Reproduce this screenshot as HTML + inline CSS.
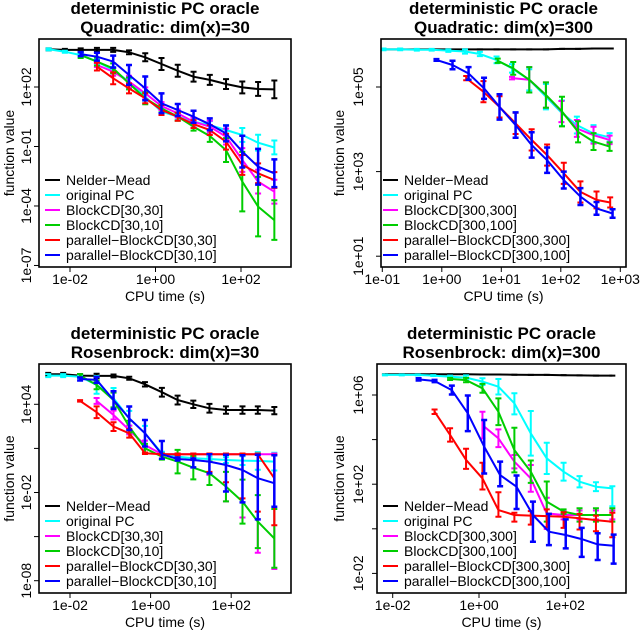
<!DOCTYPE html>
<html><head><meta charset="utf-8"><style>
html,body{margin:0;padding:0;background:#fff;}
svg{display:block;font-family:"Liberation Sans",sans-serif;}
</style></head><body>
<svg id="chart" width="640" height="631" viewBox="0 0 640 631" xmlns="http://www.w3.org/2000/svg"></svg>
<script>
// ---------- Panel 1: Quadratic dim 30 (log10 values) ----------
const p1Grid = [-2.5,-2.12,-1.75,-1.37,-0.99,-0.62,-0.24,0.14,0.52,0.89,1.27,1.65,2.03,2.40,2.78];
const p1NmY = [3.90,3.87,3.87,3.87,3.87,3.75,3.50,3.16,2.82,2.52,2.36,2.15,1.98,1.90,1.88];
const p1NmE = [0.05,0.05,0.08,0.1,0.1,0.1,0.2,0.3,0.3,0.25,0.25,0.25,0.3,0.35,0.45];
const p1CyY = [3.90,3.78,3.61,3.28,2.86,2.27,1.51,0.76,0.50,0.25,0.08,-0.17,-0.42,-0.81,-1.05];
const p1CyE = [0.05,0.05,0.1,0.1,0.15,0.15,0.2,0.15,0.15,0.15,0.2,0.25,0.35,0.4,0.35];
const p1MaY = [3.11,2.77,2.27,1.68,1.04,0.67,0.25,0.00,-0.50,-1.68,-2.77,-3.28];
const p1MaE = [0.1,0.2,0.3,0.3,0.2,0.2,0.2,0.3,0.4,0.6,0.6,0.6];
const p1GrY = [3.61,3.28,2.94,2.18,1.43,0.92,0.50,0.00,-0.47,-1.18,-2.77,-4.03,-4.71];
const p1GrE = [0.15,0.2,0.25,0.3,0.3,0.2,0.2,0.2,0.3,0.6,1.5,1.5,1.0];
const p1ReY = [3.03,2.44,1.93,1.43,0.84,0.50,0.13,-0.17,-0.76,-1.93,-2.35,-2.69];
const p1ReE = [0.2,0.3,0.25,0.25,0.25,0.2,0.2,0.25,0.4,0.5,0.5,0.4];
const p1BlY = [3.66,3.53,3.28,2.61,1.93,1.18,0.84,0.50,0.12,-0.34,-1.26,-2.02,-2.35];
const p1BlE = [0.1,0.2,0.3,0.5,0.6,0.5,0.3,0.3,0.3,0.4,0.8,0.9,0.7];

// ---------- Panel 2: Quadratic dim 300 ----------
const p2NmX = [-0.98,-0.70,-0.42,-0.17,0.11,0.39,0.64,0.92,1.20,1.47,1.75,2.02,2.29,2.56,2.84];
const p2NmY = [5.89,5.89,5.89,5.89,5.89,5.89,5.89,5.89,5.89,5.89,5.89,5.90,5.90,5.91,5.91];
const p2CyX = [-0.98,-0.70,-0.42,-0.17,0.11,0.39,0.64,0.92,1.18,1.47,1.75,2.02,2.27,2.55,2.82];
const p2CyY = [5.89,5.89,5.88,5.88,5.86,5.84,5.78,5.64,5.44,5.17,4.77,4.38,4.10,3.90,3.81];
const p2CyE = [0.02,0.02,0.02,0.02,0.03,0.05,0.05,0.08,0.1,0.25,0.3,0.3,0.2,0.2,0.1];
const p2MaX = [1.18,1.47,1.75,2.01,2.27,2.55,2.82];
const p2MaY = [5.21,5.17,4.81,4.42,4.02,3.86,3.75];
const p2MaE = [0.03,0.3,0.3,0.25,0.2,0.2,0.1];
const p2GrX = [0.94,1.20,1.47,1.75,2.02,2.29,2.55,2.82];
const p2GrY = [5.62,5.44,5.17,4.81,4.42,3.94,3.71,3.59];
const p2GrE = [0.05,0.15,0.3,0.3,0.35,0.25,0.2,0.1];
const p2ReX = [0.41,0.70,0.97,1.24,1.51,1.77,2.05,2.33,2.60,2.83];
const p2ReY = [5.21,4.89,4.53,4.14,3.75,3.39,2.96,2.52,2.33,2.27];
const p2ReE = [0.05,0.25,0.25,0.25,0.25,0.25,0.25,0.25,0.2,0.12];
const p2BlX = [-0.09,0.18,0.45,0.71,0.97,1.24,1.51,1.77,2.05,2.33,2.60,2.87];
const p2BlY = [5.64,5.52,5.32,4.97,4.53,4.10,3.63,3.27,2.80,2.41,2.13,2.01];
const p2BlE = [0.02,0.1,0.15,0.25,0.3,0.3,0.3,0.3,0.2,0.2,0.15,0.1];

// ---------- Panel 3: Rosenbrock dim 30 ----------
const p3Grid = [-2.54,-2.17,-1.75,-1.34,-0.92,-0.53,-0.14,0.28,0.67,1.06,1.46,1.87,2.28,2.66,3.07];
const p3NmY = [6.04,6.04,5.95,5.93,5.93,5.77,5.36,4.82,4.29,4.00,3.73,3.61,3.61,3.61,3.57];
const p3NmE = [0.1,0.1,0.1,0.15,0.1,0.1,0.15,0.3,0.3,0.25,0.3,0.25,0.25,0.25,0.25];
const p3CyY = [5.95,5.95,5.88,5.32,4.41,3.05,2.03,0.67,0.44,0.33,0.28,0.21,0.17,0.15,0.10];
const p3CyE = [0.1,0.1,0.1,0.6,0.7,0.5,0.5,0.1,0.1,0.1,0.15,0.2,0.3,0.6,0.6];
const p3MaY = [4.23,3.27,2.25,1.23,0.60,0.60,0.60,0.60,0.60,0.60,0.60,0.60];
const p3MaEHi = [0.2,0.3,0.3,0.3,0.05,0.05,0.05,0.05,0.05,0.05,0.05,0.05];
const p3MaELo = [0.2,0.3,0.3,0.3,0.05,0.1,0.3,1.4,3.2,4.3,6.7,7.8];
const p3GrY = [5.95,5.32,4.29,2.48,1.01,0.44,0.10,-0.31,-0.69,-1.60,-2.62,-3.98,-5.12];
const p3GrE = [0.1,0.3,0.5,0.4,0.3,0.2,0.8,0.8,0.8,1.0,1.5,1.8,2.0];
const p3ReY = [4.23,3.46,2.48,2.03,0.67,0.60,0.60,0.60,0.60,0.60,0.60,0.60,-1.03];
const p3ReEHi = [0.05,0.4,0.3,0.3,0.05,0.05,0.05,0.05,0.05,0.05,0.05,0.05,1.6];
const p3ReELo = [0.05,0.4,0.3,0.3,0.05,0.05,0.05,0.4,1.2,1.9,3.0,3.9,3.2];
const p3BlY = [5.72,5.66,4.29,3.05,2.03,0.60,0.28,0.21,0.10,-0.13,-0.47,-1.03,-1.37];
const p3BlEHi = [0.1,0.2,0.6,0.8,0.9,0.9,0.1,0.1,0.5,0.7,1.0,1.6,1.9];
const p3BlELo = [0.1,0.2,0.6,0.8,0.9,0.3,0.1,0.5,0.8,1.8,2.2,2.8,1.6];

// ---------- Panel 4: Rosenbrock dim 300 ----------
const p4Grid = [-2.18,-1.79,-1.42,-1.06,-0.67,-0.30,0.08,0.45,0.82,1.20,1.57,1.96,2.33,2.71,3.09];
const p4NmY = [6.93,6.93,6.93,6.93,6.93,6.93,6.92,6.92,6.91,6.90,6.90,6.89,6.88,6.87,6.87];
const p4CyY = [6.90,6.90,6.90,6.87,6.82,6.78,6.60,6.37,5.63,4.28,3.16,2.56,2.11,1.89,1.81];
const p4CyEHi = [0.02,0.02,0.02,0.02,0.05,0.1,0.15,0.35,0.45,1.0,0.7,0.4,0.25,0.2,0.1];
const p4CyELo = [0.02,0.02,0.02,0.02,0.05,0.1,0.15,0.35,0.5,1.0,0.7,0.4,0.25,0.2,0.8];
const p4MaY = [4.65,4.06,3.01,2.26,0.69,0.62,0.62,0.62,0.62];
const p4MaE = [0.6,0.4,0.3,0.6,0.7,0.2,0.2,0.2,0.2];
const p4GrY = [6.72,6.67,6.30,5.25,3.53,2.56,1.22,0.77,0.62,0.62,0.62];
const p4GrE = [0.05,0.1,0.2,0.6,1.0,0.5,0.9,0.1,0.3,0.3,0.3];
const p4ReX = [-1.03,-0.67,-0.30,0.08,0.45,0.82,1.20,1.57,1.96,2.33,2.71,3.09];
const p4ReY = [5.25,4.21,3.09,2.26,0.84,0.62,0.59,0.57,0.54,0.47,0.39,0.32];
const p4ReEHi = [0.1,0.3,0.5,0.7,0.8,0.1,0.2,0.3,0.2,0.2,0.2,0.4];
const p4ReELo = [0.1,0.3,0.4,0.5,0.3,0.3,0.4,0.5,0.5,0.5,0.5,0.7];
const p4BlX = [-1.40,-1.03,-0.63,-0.26,0.12,0.49,0.87,1.25,1.62,2.01,2.38,2.75,3.12];
const p4BlY = [6.70,6.63,6.22,5.18,3.68,2.41,1.89,0.62,-0.13,-0.28,-0.46,-0.70,-0.76];
const p4BlEHi = [0.05,0.05,0.2,0.8,1.2,0.6,0.5,0.6,0.8,0.7,0.5,0.5,0.5];
const p4BlELo = [0.05,0.05,0.2,0.8,1.2,0.5,1.0,1.2,0.6,0.6,0.8,0.7,0.8];

const legend30 = ["Nelder\u2212Mead","original PC","BlockCD[30,30]","BlockCD[30,10]","parallel\u2212BlockCD[30,30]","parallel\u2212BlockCD[30,10]"];
const legend300 = ["Nelder\u2212Mead","original PC","BlockCD[300,300]","BlockCD[300,100]","parallel\u2212BlockCD[300,300]","parallel\u2212BlockCD[300,100]"];
const colors = ["#000000","#00ffff","#ff00ff","#00cd00","#ff0000","#0000ff"];

const NS = "http://www.w3.org/2000/svg";
const svg = document.getElementById("chart");
function mk(tag, attrs, parent, text){
  const e = document.createElementNS(NS, tag);
  for (const k in attrs) e.setAttribute(k, attrs[k]);
  if (text !== undefined) e.textContent = text;
  (parent||svg).appendChild(e);
  return e;
}
function fmtExp(p){ const s = p<0?"-":"+"; const a=Math.abs(p); return "1e"+s+(a<10?"0":"")+a; }

function panel(cfg){
  const g = mk("g",{});
  
  
  const X = v => cfg.x0 + (v - cfg.xv0) * cfg.xs;
  const Y = v => cfg.y0 - (v - cfg.yv0) * cfg.ys;
  const cx = (cfg.bx1 + cfg.bx2)/2;
  const t1 = mk("text",{x:cx,y:cfg.ty,"text-anchor":"middle","font-size":"17","font-weight":"bold"},g,cfg.title1);
  
  
  const t2 = mk("text",{x:cx,y:cfg.ty+19,"text-anchor":"middle","font-size":"17","font-weight":"bold"},g,cfg.title2);
  
  
  cfg.xt.forEach(p=>{
    const px = X(p);
    mk("line",{x1:px,x2:px,y1:cfg.by2,y2:cfg.by2+5,stroke:"#000","stroke-width":1},g);
    const t = mk("text",{x:px,y:cfg.by2+17,"text-anchor":"middle","font-size":"14"},g,fmtExp(p));
    
    
  });
  cfg.yt.forEach(p=>{
    const py = Y(p);
    mk("line",{x1:cfg.bx1-5,x2:cfg.bx1,y1:py,y2:py,stroke:"#000","stroke-width":1},g);
    if (cfg.ylab.indexOf(p) >= 0){
      const t = mk("text",{x:cfg.ylx,y:py,"text-anchor":"middle","font-size":"14",transform:"rotate(-90 "+cfg.ylx+" "+py+")",dy:"0.35em"},g,fmtExp(p));
      
      
    }
  });
  const xt = mk("text",{x:cx,y:cfg.by2+34,"text-anchor":"middle","font-size":"14"},g,"CPU time (s)");
  
  
  const yc = (cfg.by1+cfg.by2)/2;
  const yt = mk("text",{x:cfg.ytx,y:yc,"text-anchor":"middle","font-size":"14",transform:"rotate(-90 "+cfg.ytx+" "+yc+")",dy:"0.35em"},g,"function value");
  
  
  cfg.series.forEach((s,i)=>{
    const sg = mk("g",{},g);
    
    
    const pts = s.y.map((v,k)=>X(s.x[k]).toFixed(1)+","+Y(v).toFixed(1)).join(" ");
    const pl = mk("polyline",{points:pts,fill:"none",stroke:colors[i],"stroke-width":2,"stroke-linejoin":"round"},sg);
    
    
    s.y.forEach((v,k)=>{
      const px = X(s.x[k]);
      const hi = s.eh ? s.eh[k] : 0;
      const lo = s.el ? s.el[k] : hi;
      const yh = Y(v+hi), yl = Y(v-lo);
      const w = (i===5)?2.5:2;
      const eb = mk("path",{d:"M"+px+" "+yh+"V"+yl+"M"+(px-3)+" "+yh+"H"+(px+3)+"M"+(px-3)+" "+yl+"H"+(px+3),stroke:colors[i],"stroke-width":w,fill:"none"},sg);
      
      
    });
  });
  const box = mk("rect",{x:cfg.bx1,y:cfg.by1,width:cfg.bx2-cfg.bx1,height:cfg.by2-cfg.by1,fill:"none",stroke:"#000","stroke-width":1.6},g);
  
  
  const lg = mk("g",{},g);
  
  
  cfg.legend.forEach((lab,i)=>{
    const y = cfg.ly + i*15;
    const e = mk("g",{},lg);
    
    
    mk("line",{x1:cfg.lx,x2:cfg.lx+15,y1:y,y2:y,stroke:colors[i],"stroke-width":2},e);
    mk("text",{x:cfg.lx+21,y:y,"font-size":"14",dy:"0.35em"},e,lab);
  });
}
function S(key,x,y,eh,el){ return {key:key,x:x,y:y,eh:eh,el:el}; }

panel({name:"panel-quadratic-30",title1:"deterministic PC oracle",title2:"Quadratic: dim(x)=30",ty:14,
  bx1:39,bx2:291,by1:39,by2:267,x0:70,xv0:-2,xs:42.75,y0:87,yv0:2,ys:19.83,
  xt:[-2,0,2],yt:[2,-1,-4,-7],ylab:[2,-1,-4,-7],ylx:26,ytx:9,lx:45,ly:180,legend:legend30,
  series:[S("nelder-mead",p1Grid,p1NmY,p1NmE),S("original-pc",p1Grid,p1CyY,p1CyE),
    S("blockcd-30-30",p1Grid.slice(3),p1MaY,p1MaE),S("blockcd-30-10",p1Grid.slice(2),p1GrY,p1GrE),
    S("parallel-blockcd-30-30",p1Grid.slice(3),p1ReY,p1ReE),S("parallel-blockcd-30-10",p1Grid.slice(2),p1BlY,p1BlE)]});

panel({name:"panel-quadratic-300",title1:"deterministic PC oracle",title2:"Quadratic: dim(x)=300",ty:14,
  bx1:381,bx2:626,by1:39,by2:267,x0:382.3,xv0:-1,xs:59.5,y0:87,yv0:5,ys:42.3,
  xt:[-1,0,1,2,3],yt:[5,3,1],ylab:[5,3,1],ylx:358,ytx:339,lx:383,ly:180,legend:legend300,
  series:[S("nelder-mead",p2NmX,p2NmY,null),S("original-pc",p2CyX,p2CyY,p2CyE),
    S("blockcd-300-300",p2MaX,p2MaY,p2MaE),S("blockcd-300-100",p2GrX,p2GrY,p2GrE),
    S("parallel-blockcd-300-300",p2ReX,p2ReY,p2ReE),S("parallel-blockcd-300-100",p2BlX,p2BlY,p2BlE)]});

panel({name:"panel-rosenbrock-30",title1:"deterministic PC oracle",title2:"Rosenbrock: dim(x)=30",ty:339,
  bx1:39,bx2:291,by1:364,by2:593,x0:70,xv0:-2,xs:40.3,y0:404.3,yv0:4,ys:14.7,
  xt:[-2,0,2],yt:[4,1,-2,-5,-8],ylab:[4,-2,-8],ylx:26,ytx:9,lx:45,ly:506,legend:legend30,
  series:[S("nelder-mead",p3Grid,p3NmY,p3NmE),S("original-pc",p3Grid,p3CyY,p3CyE),
    S("blockcd-30-30",p3Grid.slice(3),p3MaY,p3MaEHi,p3MaELo),S("blockcd-30-10",p3Grid.slice(2),p3GrY,p3GrE),
    S("parallel-blockcd-30-30",p3Grid.slice(2),p3ReY,p3ReEHi,p3ReELo),S("parallel-blockcd-30-10",p3Grid.slice(2),p3BlY,p3BlEHi,p3BlELo)]});

panel({name:"panel-rosenbrock-300",title1:"deterministic PC oracle",title2:"Rosenbrock: dim(x)=300",ty:339,
  bx1:377,bx2:626,by1:364,by2:593,x0:392.7,xv0:-2,xs:43.15,y0:395,yv0:6,ys:22.3,
  xt:[-2,0,2],yt:[6,4,2,0,-2],ylab:[6,2,-2],ylx:358,ytx:339,lx:383,ly:506,legend:legend300,
  series:[S("nelder-mead",p4Grid,p4NmY,null),S("original-pc",p4Grid,p4CyY,p4CyEHi,p4CyELo),
    S("blockcd-300-300",p4Grid.slice(6),p4MaY,p4MaE),S("blockcd-300-100",p4Grid.slice(4),p4GrY,p4GrE),
    S("parallel-blockcd-300-300",p4ReX,p4ReY,p4ReEHi,p4ReELo),S("parallel-blockcd-300-100",p4BlX,p4BlY,p4BlEHi,p4BlELo)]});
</script>
</body></html>
